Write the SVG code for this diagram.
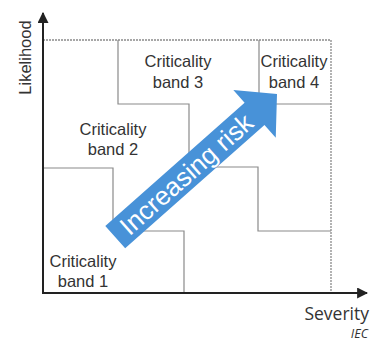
<svg xmlns="http://www.w3.org/2000/svg" width="372" height="341" viewBox="0 0 372 341">
  <style>
    .lbl { font-family: "Liberation Sans", Arial, sans-serif; font-size: 16.5px; fill: #333; text-anchor: middle; }
    .bound { fill: none; stroke: #8a8a8a; stroke-width: 1.2; }
    .dot { fill: none; stroke: #8a8a8a; stroke-width: 1.3; stroke-dasharray: 2 1; }
    .axis { fill: none; stroke: #222; stroke-width: 2; }
  </style>
  <defs>
    <marker id="ah" viewBox="0 0 10 10" refX="9" refY="5" markerWidth="5.5" markerHeight="5.5" orient="auto" markerUnits="strokeWidth">
      <path d="M0,0 L10,5 L0,10 Z" fill="#222"/>
    </marker>
  </defs>
  <rect width="372" height="341" fill="#fff"/>

  <g id="frame">
    <path class="dot" d="M43,40 H331 V293"/>
  </g>

  <g id="connectors">
    <path class="bound" d="M43,168 H113 V231 H184 V293"/>
    <path class="bound" d="M118,40 V104 H189 V167 H258 V231 H331"/>
    <path class="bound" d="M259,40 V104 H331"/>
  </g>

  <g id="band1">
    <text class="lbl" x="83" y="267">Criticality</text>
    <text class="lbl" x="83" y="287">band 1</text>
  </g>
  <g id="band2">
    <text class="lbl" x="113" y="135">Criticality</text>
    <text class="lbl" x="113" y="155">band 2</text>
  </g>
  <g id="band3">
    <text class="lbl" x="178" y="67">Criticality</text>
    <text class="lbl" x="178" y="88">band 3</text>
  </g>
  <g id="band4">
    <text class="lbl" x="294" y="67">Criticality</text>
    <text class="lbl" x="294" y="88">band 4</text>
  </g>

  <g id="risk-arrow" transform="translate(277,94) rotate(-41.5)">
    <path d="M-216,-15 L-30,-15 L-30,-32 L0,0 L-30,32 L-30,15 L-216,15 Z" fill="#4892d8"/>
    <text x="-121" y="9" font-family="'Liberation Sans', Arial, sans-serif" font-size="26" fill="#fff" text-anchor="middle">Increasing risk</text>
  </g>

  <g id="axes">
    <path class="axis" d="M43,294 V13" marker-end="url(#ah)"/>
    <path class="axis" d="M42,293 H367" marker-end="url(#ah)"/>
    <text transform="translate(31,57.5) rotate(-90)" class="lbl">Likelihood</text>
    <text x="369" y="320" font-family="'Open Sans', sans-serif" font-size="17.5" fill="#333" text-anchor="end">Severity</text>
    <text x="368" y="338" font-family="'Open Sans', sans-serif" font-size="12.5" font-style="italic" fill="#333" text-anchor="end">IEC</text>
  </g>
</svg>
